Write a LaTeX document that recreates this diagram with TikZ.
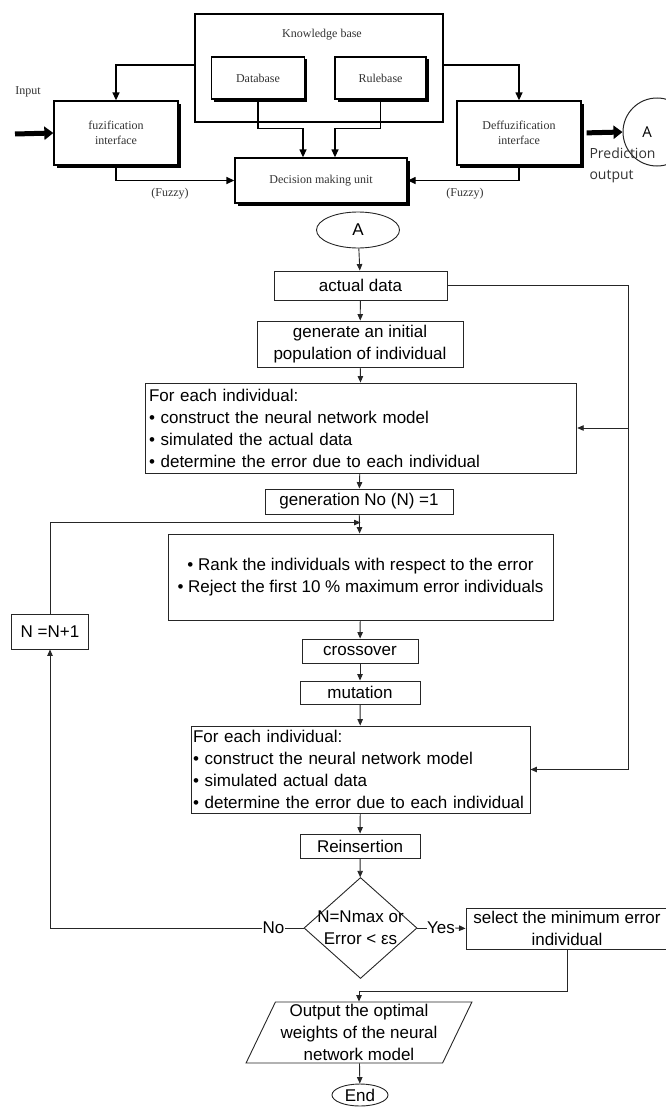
\documentclass[tikz,border=0pt]{standalone}
\usepackage{fontspec}
\setmainfont{Liberation Serif}
\newfontfamily\flowfont{Liberation Sans}
\newfontfamily\notefont{Open Sans}
\usetikzlibrary{arrows.meta,shapes.geometric,shadows}
\tikzstyle{fuzzybox}=[rectangle, draw, line width=1.3pt, fill=white, inner sep=0pt, align=center, text=black!80, font=\fontsize{12}{15}\selectfont, drop shadow={shadow xshift=2.5pt, shadow yshift=-2.5pt, fill=black, opacity=1}]
\tikzstyle{fuzzytext}=[text=black!80, font=\fontsize{12}{15}\selectfont]
\tikzstyle{fuzzyline}=[line width=1.3pt, -{Triangle[length=8pt, width=7pt]}]
\tikzstyle{bigarrow}=[line width=5pt, -{Triangle[length=9pt, width=13pt]}]
\tikzstyle{flowbox}=[rectangle, draw=black!85, line width=0.9pt, inner sep=0pt, align=center, font=\flowfont\fontsize{17}{22}\selectfont]
\tikzstyle{flowtext}=[inner sep=0pt, font=\flowfont\fontsize{17}{22}\selectfont]
\tikzstyle{flowline}=[line width=0.9pt, draw=black!85, -{Triangle[length=6.5pt, width=5.5pt]}]

\begin{document}
\begin{tikzpicture}[x=1pt, y=-1pt]
\useasboundingbox (0,0) rectangle (665,1108);
% fuzzy inference part
\node[draw, line width=1.3pt, minimum width=248pt, minimum height=108pt, inner sep=0pt] (kb) at (319,68) {};
\node[fuzzytext] (kbtitle) at (322,35) {Knowledge base};
\node[fuzzybox, minimum width=93pt, minimum height=42pt] (db) at (258,78) {Database};
\node[fuzzybox, minimum width=91pt, minimum height=42pt] (rb) at (380.5,78) {Rulebase};
\node[fuzzybox, minimum width=124pt, minimum height=64pt] (fuz) at (116,133) {fuzification\\interface};
\node[fuzzybox, minimum width=124pt, minimum height=64pt] (deff) at (519,133) {Deffuzification\\interface};
\node[fuzzybox, minimum width=172pt, minimum height=45pt] (dmu) at (321,180.5) {Decision making unit};
\node[fuzzytext] (inlabel) at (28,92) {Input};
\node[fuzzytext] (fzl) at (170,194) {(Fuzzy)};
\node[fuzzytext] (fzr) at (465,194) {(Fuzzy)};
\node[circle, draw=black!85, line width=1pt, minimum size=68pt, inner sep=0pt,
      label={[xshift=-10pt, font=\notefont\fontsize{15}{18}\selectfont]center:A}] (outA) at (657,132) {};
\node[anchor=west, align=left, text=black!80, font=\notefont\fontsize{14}{21}\selectfont] (pred) at (586,165) {Prediction\\output};
\coordinate (in) at (15,134);
\draw[bigarrow] (in) -- (fuz.west);
\draw[bigarrow, shorten <=5pt] (deff.east) -- (outA.west);
\draw[fuzzyline] ([yshift=3pt]kb.west) -| (fuz.north);
\draw[fuzzyline] ([yshift=3pt]kb.east) -| (deff.north);
\draw[fuzzyline] (db.south) -- ++(0,29) -| ([xshift=-18pt]dmu.north);
\draw[fuzzyline] (rb.south) -- ++(0,29) -| ([xshift=14pt]dmu.north);
\draw[fuzzyline] (fuz.south) |- (dmu.west);
\draw[fuzzyline] (deff.south) |- (dmu.east);
% genetic algorithm part
\node[flowbox, ellipse, minimum width=83pt, minimum height=36pt] (A) at (358,230) {A};
\node[flowbox, minimum width=173pt, minimum height=29pt] (data) at (360.5,285.5) {actual data};
\node[flowbox, minimum width=206pt, minimum height=46pt] (init) at (360,344) {generate an initial\\population of individual};
\node[flowbox, minimum width=431.5pt, minimum height=90pt, text width=424pt, align=left] (eval1) at (361,428) {For each individual:\\\textbullet{} construct the neural network model\\\textbullet{} simulated the actual data\\\textbullet{} determine the error due to each individual};
\node[flowbox, minimum width=188pt, minimum height=25pt] (gen) at (359,501.5) {generation No (N) =1};
\node[flowbox, minimum width=385pt, minimum height=86pt] (rank) at (360.5,577) {\textbullet{} Rank the individuals with respect to the error\\\textbullet{} Reject the first 10 \% maximum error individuals};
\node[flowbox, minimum width=76.5pt, minimum height=35pt] (incr) at (50,631.5) {N =N+1};
\node[flowbox, minimum width=116pt, minimum height=24pt] (cross) at (360,651) {crossover};
\node[flowbox, minimum width=120pt, minimum height=23pt] (mut) at (360,692.5) {mutation};
\node[flowbox, minimum width=339pt, minimum height=87pt, text width=335pt, align=left] (eval2) at (360.5,769.5) {For each individual:\\\textbullet{} construct the neural network model\\\textbullet{} simulated actual data\\\textbullet{} determine the error due to each individual};
\node[flowbox, minimum width=120pt, minimum height=24pt] (reins) at (360,846) {Reinsertion};
\node[flowbox, diamond, minimum width=113pt, minimum height=101pt] (check) at (360.5,928) {\makebox[0pt]{N=Nmax or}\\\makebox[0pt]{Error < εs}};
\node[flowbox, minimum width=202pt, minimum height=41pt] (select) at (567,928.5) {select the minimum error\\individual};
\node[flowbox, trapezium, trapezium left angle=64, trapezium right angle=116, trapezium stretches=true, minimum width=226pt, minimum height=61pt] (out) at (359,1032.5) {Output the optimal\\weights of the neural\\network model};
\node[flowbox, ellipse, minimum width=56pt, minimum height=22pt] (end) at (360,1095) {End};
\node[flowtext] (no) at (273.5,928) {No};
\node[flowtext] (yes) at (441,928) {Yes};
\coordinate (fbtop) at (628.5,285.5);
\draw[flowline] (A) -- (data);
\draw[flowline] (data) -- (init);
\draw[flowline] (init) -- (eval1);
\draw[flowline] (eval1) -- (gen);
\draw[flowline] (gen) -- (rank);
\draw[flowline] (rank) -- (cross);
\draw[flowline] (cross) -- (mut);
\draw[flowline] (mut) -- (eval2);
\draw[flowline] (eval2) -- (reins);
\draw[flowline] (reins) -- (check);
\draw[flowline] (data.east) -- (fbtop) |- (eval2.east);
\draw[flowline] (fbtop |- eval1.east) -- (eval1.east);
\draw[line width=0.9pt, draw=black!85] (check.west) -- (no.east);
\draw[flowline] (no.west) -| (incr.south);
\draw[flowline] (incr.north) |- ([yshift=11pt]rank.north);
\draw[line width=0.9pt, draw=black!85] (check.east) -- (yes.west);
\draw[flowline] (yes.east) -- (select.west);
\draw[flowline] (select.south) -- ++(0,42) -| (out.north);
\draw[flowline] (out) -- (end);
\end{tikzpicture}
\end{document}
